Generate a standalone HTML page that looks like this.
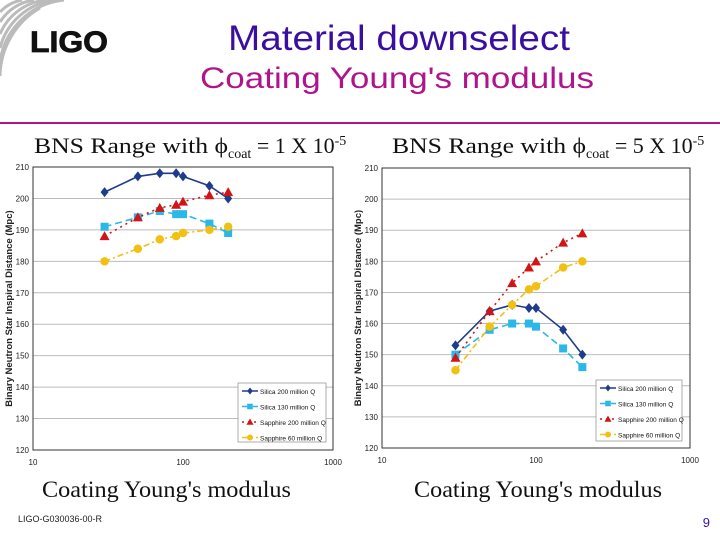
<!DOCTYPE html>
<html><head><meta charset="utf-8"><style>
body{margin:0;width:720px;height:540px;background:#fff;overflow:hidden;position:relative;font-family:"Liberation Sans",sans-serif}
.abs{position:absolute}
</style></head><body>
<svg class="abs" style="left:0;top:0" width="720" height="540">
  <g fill="none" stroke="#bbb" stroke-width="3">
    <path d="M0,12 A40,40 0 0 1 22,0"/><path d="M0,22 A48,48 0 0 1 34,0"/><path d="M0,34 A56,56 0 0 1 46,0"/><path d="M0,48 A64,64 0 0 1 56,0"/><path d="M0,62 A72,72 0 0 1 64,0"/><path d="M0,76 A80,80 0 0 1 40,8"/>
  </g>
  <text x="30" y="52" font-family="Liberation Sans" font-weight="bold" font-size="30" fill="#111" stroke="#111" stroke-width="0.8" textLength="78" lengthAdjust="spacingAndGlyphs">LIGO</text>
  <text x="228" y="50" font-family="Liberation Sans" font-size="35" fill="#3a0fa0" textLength="342" lengthAdjust="spacingAndGlyphs">Material downselect</text>
  <text x="200" y="88" font-family="Liberation Sans" font-size="30" fill="#b0148c" textLength="394" lengthAdjust="spacingAndGlyphs">Coating Young's modulus</text>
  <line x1="0" y1="123" x2="720" y2="123" stroke="#b0148c" stroke-width="2"/>
  <text x="34" y="153" font-family="Liberation Serif" font-size="22" fill="#111"><tspan textLength="194" lengthAdjust="spacingAndGlyphs">BNS Range with ϕ</tspan><tspan font-size="14" dy="5">coat</tspan><tspan dy="-5"> = 1 X 10</tspan><tspan font-size="14" dy="-8">-5</tspan></text>
  <text x="392" y="153" font-family="Liberation Serif" font-size="22" fill="#111"><tspan textLength="194" lengthAdjust="spacingAndGlyphs">BNS Range with ϕ</tspan><tspan font-size="14" dy="5">coat</tspan><tspan dy="-5"> = 5 X 10</tspan><tspan font-size="14" dy="-8">-5</tspan></text>
  <text x="42" y="497" font-family="Liberation Serif" font-size="23" fill="#111" textLength="249" lengthAdjust="spacingAndGlyphs">Coating Young's modulus</text>
  <text x="414" y="497" font-family="Liberation Serif" font-size="23" fill="#111" textLength="248" lengthAdjust="spacingAndGlyphs">Coating Young's modulus</text>
  <text x="18" y="522" font-family="Liberation Sans" font-size="9" fill="#222">LIGO-G030036-00-R</text>
  <text x="710" y="527" text-anchor="end" font-family="Liberation Sans" font-size="13" fill="#3a0fa0">9</text>
  <g id="chartL"></g>
  <g id="chartR"></g>
</svg>
<script>
const xValues=[30,50,70,90,100,150,200];
const yTicks=[120,130,140,150,160,170,180,190,200,210];
const xTicks=[10,100,1000];
const seriesNames=["Silica 200 million Q","Silica 130 million Q","Sapphire 200 million Q","Sapphire 60 million Q"];
const leftSilica200=[202,207,208,208,207,204,200];
const leftSilica130=[191,194,196,195,195,192,189];
const leftSapphire200=[188,194,197,198,199,201,202];
const leftSapphire60=[180,184,187,188,189,190,191];
const rightSilica200=[153,164,166,165,165,158,150];
const rightSilica130=[150,158,160,160,159,152,146];
const rightSapphire200=[149,164,173,178,180,186,189];
const rightSapphire60=[145,159,166,171,172,178,180];
const NS="http://www.w3.org/2000/svg";
const styles=[{c:"#1f3c8c",d:"",m:"diamond"},{c:"#2ab8e8",d:"7,4",m:"square"},{c:"#d21414",d:"2,4",m:"triangle"},{c:"#f2c012",d:"6,3,2,3",m:"circle"}];
function el(tag,attrs,parent){const e=document.createElementNS(NS,tag);for(const k in attrs)e.setAttribute(k,attrs[k]);parent.appendChild(e);return e;}
function marker(g,type,x,y,c,s){
  let e;
  if(type==="diamond")e=el("polygon",{points:`${x},${y-s} ${x+s*0.8},${y} ${x},${y+s} ${x-s*0.8},${y}`,fill:c},g);
  else if(type==="square")e=el("rect",{x:x-s*0.8,y:y-s*0.8,width:s*1.6,height:s*1.6,fill:c},g);
  else if(type==="triangle")e=el("polygon",{points:`${x},${y-s} ${x+s},${y+s*0.8} ${x-s},${y+s*0.8}`,fill:c},g);
  else e=el("circle",{cx:x,cy:y,r:s*0.85,fill:c},g);
  return e;
}
function drawChart(gid,L,R,T,B,data,leg,prefix){
  const g=document.getElementById(gid);
  const xs=v=>L+(Math.log10(v)-1)/2*(R-L);
  const ys=v=>B-(v-120)/90*(B-T);
  yTicks.forEach(t=>{
    const ln=el("line",{x1:L,x2:R,y1:ys(t),y2:ys(t),stroke:"#bbb","stroke-width":1},g);
    
    
    const tx=el("text",{x:L-4,y:ys(t)+3,"text-anchor":"end","font-size":8,"font-family":"Liberation Sans",fill:"#222"},g);
    tx.textContent=t;
    
    
  });
  xTicks.forEach(t=>{
    const tx=el("text",{x:xs(t),y:B+15,"text-anchor":"middle","font-size":8,"font-family":"Liberation Sans",fill:"#222"},g);
    tx.textContent=t;
    
    
  });
  const fr=el("rect",{x:L,y:T,width:R-L,height:B-T,fill:"none",stroke:"#333","stroke-width":1},g);
  
  
  const yt=el("text",{x:0,y:0,"text-anchor":"middle","font-size":9.5,"font-weight":"bold","font-family":"Liberation Sans",fill:"#222",transform:`translate(${L-21},${(T+B)/2}) rotate(-90)`},g);
  yt.textContent="Binary Neutron Star Inspiral Distance (Mpc)";
  
  
  data.forEach((arr,i)=>{
    const s=styles[i];
    const pts=arr.map((v,j)=>xs(xValues[j])+","+ys(v)).join(" ");
    const pl=el("polyline",{points:pts,fill:"none",stroke:s.c,"stroke-width":1.6,"stroke-dasharray":s.d},g);
    
    
    arr.forEach((v,j)=>{
      const m=marker(g,s.m,xs(xValues[j]),ys(v),s.c,5);
      
      
    });
  });
  const lg=el("g",{},g);
  
  
  el("rect",{x:leg[0],y:leg[1],width:leg[2],height:leg[3],fill:"#fff",stroke:"#999","stroke-width":0.8},lg);
  seriesNames.forEach((n,i)=>{
    const s=styles[i];const yy=leg[1]+8+i*15.5;
    const ln=el("line",{x1:leg[0]+4,x2:leg[0]+20,y1:yy,y2:yy,stroke:s.c,"stroke-width":1.5,"stroke-dasharray":s.d},lg);
    
    
    marker(lg,s.m,leg[0]+12,yy,s.c,3.5);
    const t=el("text",{x:leg[0]+22,y:yy+3,"font-size":6.5,"font-family":"Liberation Sans",fill:"#111"},lg);
    t.textContent=n;
    
    
  });
}
drawChart("chartL",33,333,167,450,[leftSilica200,leftSilica130,leftSapphire200,leftSapphire60],[238,383,88,59],"left");
drawChart("chartR",382,690,168,448,[rightSilica200,rightSilica130,rightSapphire200,rightSapphire60],[596,380,86,61],"right");
</script>
</body></html>
